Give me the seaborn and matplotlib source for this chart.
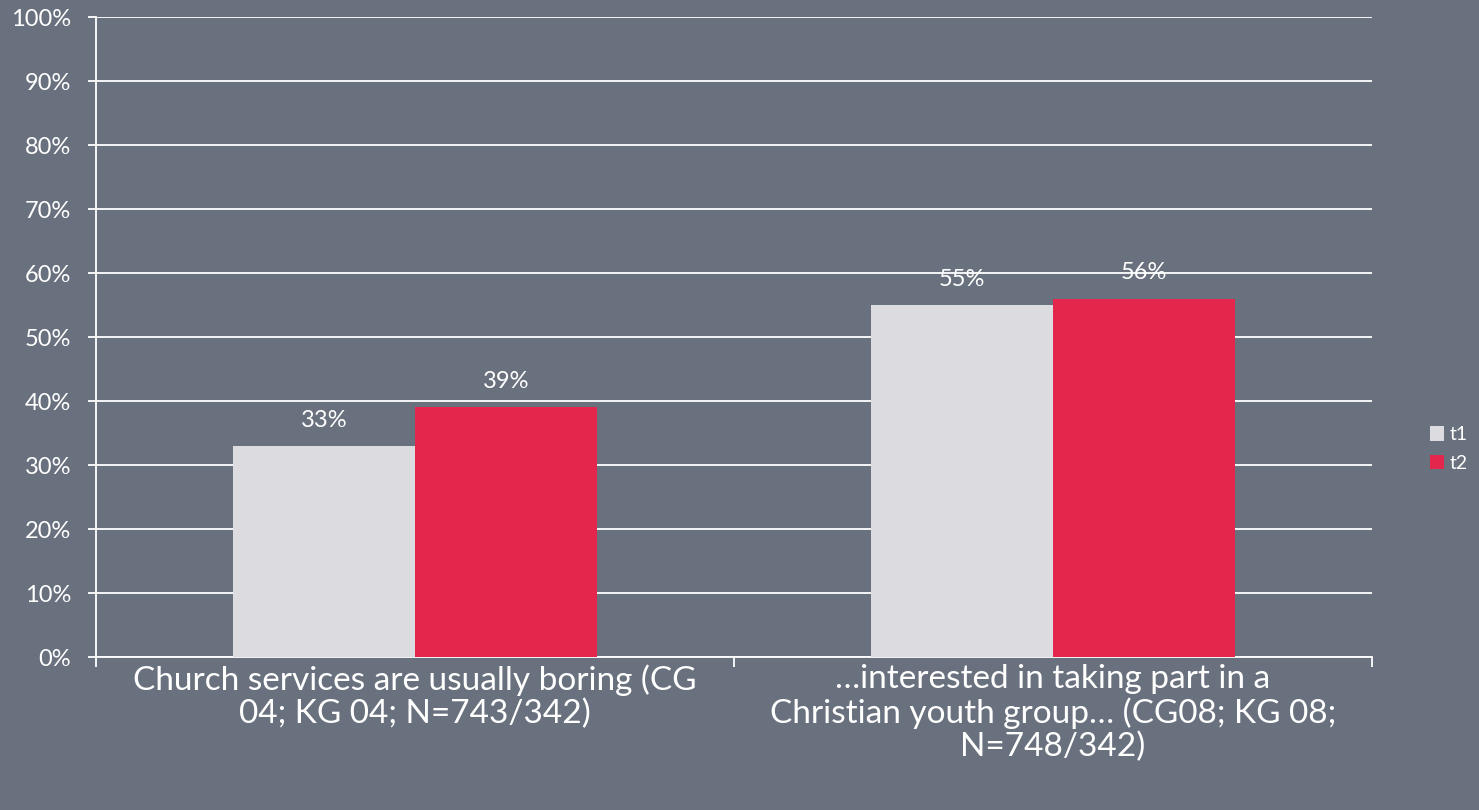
import matplotlib
matplotlib.use("Agg")
import matplotlib.pyplot as plt
import seaborn as sns
import pandas as pd
from matplotlib.ticker import FixedLocator, PercentFormatter

categories = [
    "Church services are usually boring (CG\n04; KG 04; N=743/342)",
    "…interested in taking part in a\nChristian youth group… (CG08; KG 08;\nN=748/342)",
]
series_names = ["t1", "t2"]
t1_values = [33, 55]
t2_values = [39, 56]
y_ticks = [0, 10, 20, 30, 40, 50, 60, 70, 80, 90, 100]

bg = "#6A717E"
colors = {"t1": "#DCDBE0", "t2": "#E4264C"}

df = pd.DataFrame({
    "category": categories * 2,
    "series": [series_names[0]] * len(categories) + [series_names[1]] * len(categories),
    "value": t1_values + t2_values,
})

sns.set_theme(style="white")
plt.rcParams["font.family"] = ["Lato", "DejaVu Sans"]

fig = plt.figure(figsize=(14.79, 8.10), dpi=100, facecolor=bg)
ax = fig.add_axes([96 / 1479, 1 - 657 / 810, (1372 - 96) / 1479, (657 - 17) / 810])
ax.set_facecolor(bg)

sns.barplot(data=df, x="category", y="value", hue="series", palette=colors,
            width=0.57, saturation=1, ax=ax, legend=True, edgecolor="none", zorder=3)

for cont in ax.containers:
    ax.bar_label(cont, labels=[f"{v:.0f}%" for v in cont.datavalues],
                 padding=11, color="white", fontsize=17)

ax.set_ylim(0, 100)
ax.set_xlim(-0.5, len(categories) - 0.5)
ax.yaxis.set_major_locator(FixedLocator(y_ticks))
ax.yaxis.set_major_formatter(PercentFormatter(decimals=0))
ax.grid(axis="y", color="white", linewidth=1.3, zorder=0)
ax.set_axisbelow(True)

ax.set_xlabel("")
ax.set_ylabel("")
for s in ["top", "right"]:
    ax.spines[s].set_visible(False)
for s in ["left", "bottom"]:
    ax.spines[s].set_color("white")
    ax.spines[s].set_linewidth(1.3)

ax.tick_params(axis="y", colors="white", labelsize=17, length=6, width=1.3, direction="out", left=True, pad=12)
ax.tick_params(axis="x", which="major", colors="white", labelsize=24, length=0, pad=5)
ax.xaxis.set_minor_locator(FixedLocator([-0.5, 0.5, 1.5]))
ax.tick_params(axis="x", which="minor", bottom=True, length=7, width=1.3, color="white")
for lab in ax.get_xticklabels():
    lab.set_color("white")
    lab.set_linespacing(1.12)

leg = ax.get_legend()
handles = leg.legend_handles
leg.remove()
fig.legend(handles, series_names, loc="center left", bbox_to_anchor=(1416 / 1479, 1 - 449 / 810),
           frameon=False, fontsize=14, labelcolor="white", handlelength=0.75, handleheight=0.75,
           handletextpad=0.3, labelspacing=0.6, borderpad=0.2)

fig.savefig("out.png", dpi=100, facecolor=bg)
